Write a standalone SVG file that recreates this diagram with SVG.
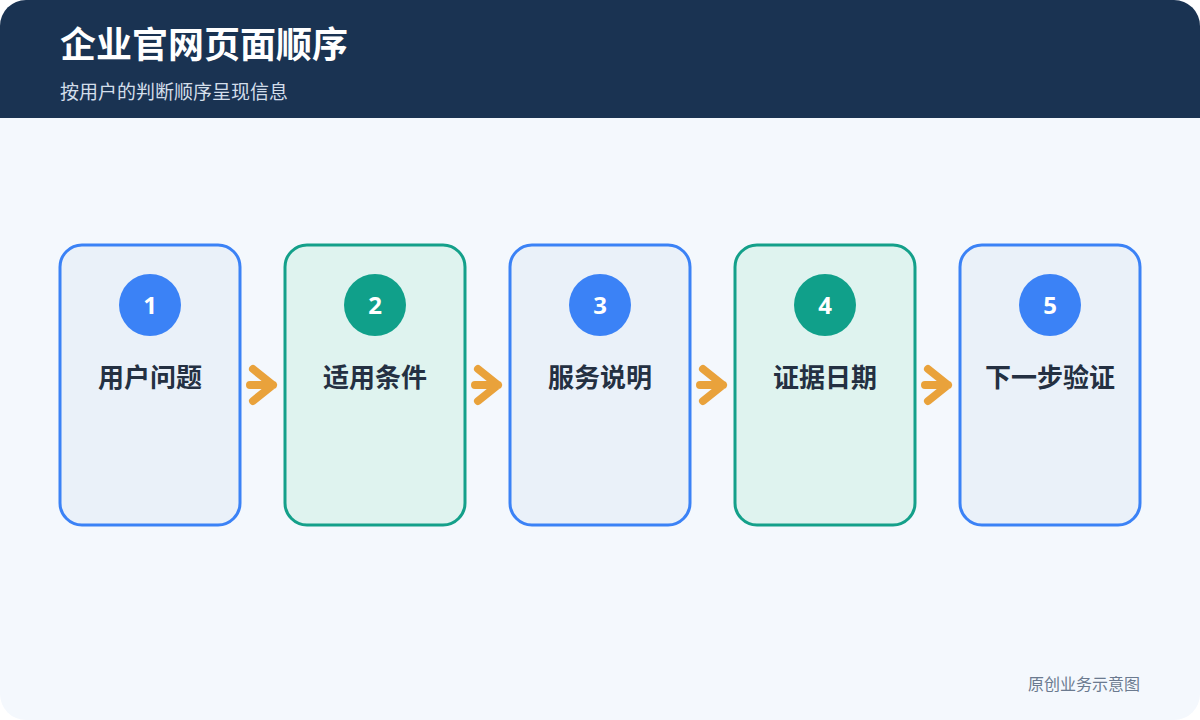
<svg xmlns="http://www.w3.org/2000/svg" width="1200" height="720" viewBox="0 0 1200 720">
<defs>
<style>
.card-b{fill:#eaf1f9;stroke:#3b82f6;stroke-width:3}
.card-g{fill:#dff3ef;stroke:#14a08a;stroke-width:3}
.dot-b{fill:#3b82f6}
.dot-g{fill:#10a08a}
.num{font-family:"Noto Sans","Liberation Sans",sans-serif;font-size:24px;font-weight:700;fill:#ffffff;text-anchor:middle}
.lbl{font-family:"Noto Sans CJK SC","Noto Sans",sans-serif;font-size:26px;font-weight:700;fill:#243042;text-anchor:middle}
.arr{fill:none;stroke:#e9a23b;stroke-width:8;stroke-linecap:round;stroke-linejoin:round}
</style>
</defs>
<rect x="0" y="0" width="1200" height="720" fill="#ffffff"/>
<rect x="0" y="0" width="1200" height="720" rx="26" fill="#f4f8fd"/>
<path d="M26 0 H1174 A26 26 0 0 1 1200 26 V118 H0 V26 A26 26 0 0 1 26 0 Z" fill="#1a3352"/>
<text x="60" y="58" font-family="Noto Sans CJK SC,Noto Sans,sans-serif" font-size="36" font-weight="700" fill="#ffffff">企业官网页面顺序</text>
<text x="60" y="99" font-family="Noto Sans CJK SC,Noto Sans,sans-serif" font-size="19" fill="#d3deea">按用户的判断顺序呈现信息</text>

<g id="node1">
<rect class="card-b" x="60" y="245" width="180" height="280" rx="22"/>
<circle class="dot-b" cx="150" cy="305" r="31"/>
<text class="num" x="150" y="314">1</text>
<text class="lbl" x="150" y="387">用户问题</text>
</g>
<g id="node2">
<rect class="card-g" x="285" y="245" width="180" height="280" rx="22"/>
<circle class="dot-g" cx="375" cy="305" r="31"/>
<text class="num" x="375" y="314">2</text>
<text class="lbl" x="375" y="387">适用条件</text>
</g>
<g id="node3">
<rect class="card-b" x="510" y="245" width="180" height="280" rx="22"/>
<circle class="dot-b" cx="600" cy="305" r="31"/>
<text class="num" x="600" y="314">3</text>
<text class="lbl" x="600" y="387">服务说明</text>
</g>
<g id="node4">
<rect class="card-g" x="735" y="245" width="180" height="280" rx="22"/>
<circle class="dot-g" cx="825" cy="305" r="31"/>
<text class="num" x="825" y="314">4</text>
<text class="lbl" x="825" y="387">证据日期</text>
</g>
<g id="node5">
<rect class="card-b" x="960" y="245" width="180" height="280" rx="22"/>
<circle class="dot-b" cx="1050" cy="305" r="31"/>
<text class="num" x="1050" y="314">5</text>
<text class="lbl" x="1050" y="387">下一步验证</text>
</g>

<g id="connectors">
<path class="arr" d="M250 385 H273 M253 369 L273 385 L253 401"/>
<path class="arr" d="M475 385 H498 M478 369 L498 385 L478 401"/>
<path class="arr" d="M700 385 H723 M703 369 L723 385 L703 401"/>
<path class="arr" d="M925 385 H948 M928 369 L948 385 L928 401"/>
</g>

<text x="1140" y="690" text-anchor="end" font-family="Noto Sans CJK SC,Noto Sans,sans-serif" font-size="16" fill="#6b7a8f">原创业务示意图</text>
</svg>
